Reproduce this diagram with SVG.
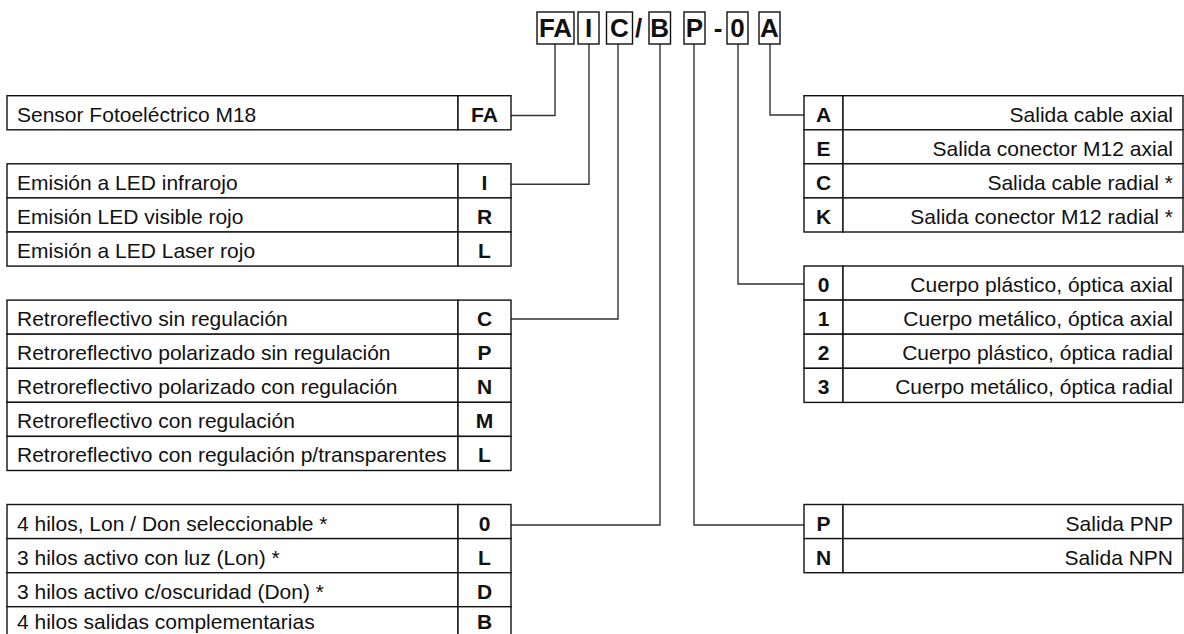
<svg xmlns="http://www.w3.org/2000/svg" width="1184" height="634" viewBox="0 0 1184 634">
<style>
.cell{fill:#fff;stroke:#111;stroke-width:1.4}
.lbl{font-family:"Liberation Sans",Arial,sans-serif;font-size:21px;fill:#111}
.rt{text-anchor:end}
.cd{font-family:"Liberation Sans",Arial,sans-serif;font-size:21px;font-weight:bold;fill:#111;text-anchor:middle}
.big{font-family:"Liberation Sans",Arial,sans-serif;font-size:26px;font-weight:bold;fill:#111;text-anchor:middle}
.conn{fill:none;stroke:#333;stroke-width:1.4}
</style>
<rect width="1184" height="634" fill="#fff"/>

<g id="connectors">
<path class="conn" d="M555,44 V115.5 H511"/>
<path class="conn" d="M589,44 V184.3 H511"/>
<path class="conn" d="M618,44 V319 H511"/>
<path class="conn" d="M660,44 V525 H511"/>
<path class="conn" d="M694,44 V525 H804"/>
<path class="conn" d="M738,44 V284 H804"/>
<path class="conn" d="M770,44 V115 H804"/>
</g>

<g id="code">
<rect class="cell" x="537" y="12" width="37" height="32"/><text class="big" x="555.5" y="36.7">FA</text>
<rect class="cell" x="578" y="12" width="21" height="32"/><text class="big" x="588.5" y="36.7">I</text>
<rect class="cell" x="606.5" y="12" width="26" height="32"/><text class="big" x="619.5" y="36.7">C</text>
<text class="big" x="638.5" y="36.7">/</text>
<rect class="cell" x="649" y="12" width="21.5" height="32"/><text class="big" x="659.75" y="36.7">B</text>
<rect class="cell" x="684" y="12" width="21" height="32"/><text class="big" x="694.5" y="36.7">P</text>
<text class="big" x="718" y="36.7">-</text>
<rect class="cell" x="727" y="12" width="21" height="32"/><text class="big" x="737.5" y="36.7">0</text>
<rect class="cell" x="759" y="12" width="21" height="32"/><text class="big" x="769.5" y="36.7">A</text>
</g>

<g id="t-sensor">
<rect class="cell" x="7" y="95.7" width="451" height="34.1"/><rect class="cell" x="458" y="95.7" width="53" height="34.1"/>
<text class="lbl" x="17" y="121.7">Sensor Fotoeléctrico M18</text><text class="cd" x="484.5" y="121.7">FA</text>
</g>

<g id="t-emision">
<rect class="cell" x="7" y="163.8" width="451" height="34.1"/><rect class="cell" x="458" y="163.8" width="53" height="34.1"/>
<rect class="cell" x="7" y="197.9" width="451" height="34.1"/><rect class="cell" x="458" y="197.9" width="53" height="34.1"/>
<rect class="cell" x="7" y="232" width="451" height="34.1"/><rect class="cell" x="458" y="232" width="53" height="34.1"/>
<text class="lbl" x="17" y="189.8">Emisión a LED infrarojo</text><text class="cd" x="484.5" y="189.8">I</text>
<text class="lbl" x="17" y="223.9">Emisión LED visible rojo</text><text class="cd" x="484.5" y="223.9">R</text>
<text class="lbl" x="17" y="258">Emisión a LED Laser rojo</text><text class="cd" x="484.5" y="258">L</text>
</g>

<g id="t-retro">
<rect class="cell" x="7" y="300.1" width="451" height="34.1"/><rect class="cell" x="458" y="300.1" width="53" height="34.1"/>
<rect class="cell" x="7" y="334.2" width="451" height="34.1"/><rect class="cell" x="458" y="334.2" width="53" height="34.1"/>
<rect class="cell" x="7" y="368.3" width="451" height="34.1"/><rect class="cell" x="458" y="368.3" width="53" height="34.1"/>
<rect class="cell" x="7" y="402.3" width="451" height="34.1"/><rect class="cell" x="458" y="402.3" width="53" height="34.1"/>
<rect class="cell" x="7" y="436.4" width="451" height="34.1"/><rect class="cell" x="458" y="436.4" width="53" height="34.1"/>
<text class="lbl" x="17" y="326.1">Retroreflectivo sin regulación</text><text class="cd" x="484.5" y="326.1">C</text>
<text class="lbl" x="17" y="360.2">Retroreflectivo polarizado sin regulación</text><text class="cd" x="484.5" y="360.2">P</text>
<text class="lbl" x="17" y="394.3">Retroreflectivo polarizado con regulación</text><text class="cd" x="484.5" y="394.3">N</text>
<text class="lbl" x="17" y="428.3">Retroreflectivo con regulación</text><text class="cd" x="484.5" y="428.3">M</text>
<text class="lbl" x="17" y="462.4">Retroreflectivo con regulación p/transparentes</text><text class="cd" x="484.5" y="462.4">L</text>
</g>

<g id="t-hilos">
<rect class="cell" x="7" y="504.5" width="451" height="34.1"/><rect class="cell" x="458" y="504.5" width="53" height="34.1"/>
<rect class="cell" x="7" y="538.6" width="451" height="34.1"/><rect class="cell" x="458" y="538.6" width="53" height="34.1"/>
<rect class="cell" x="7" y="572.7" width="451" height="34.1"/><rect class="cell" x="458" y="572.7" width="53" height="34.1"/>
<rect class="cell" x="7" y="606.7" width="451" height="34.1"/><rect class="cell" x="458" y="606.7" width="53" height="34.1"/>
<text class="lbl" x="17" y="530.5">4 hilos, Lon / Don seleccionable *</text><text class="cd" x="484.5" y="530.5">0</text>
<text class="lbl" x="17" y="564.6">3 hilos activo con luz (Lon) *</text><text class="cd" x="484.5" y="564.6">L</text>
<text class="lbl" x="17" y="598.7">3 hilos activo c/oscuridad (Don) *</text><text class="cd" x="484.5" y="598.7">D</text>
<text class="lbl" x="17" y="629">4 hilos salidas complementarias</text><text class="cd" x="484.5" y="629">B</text>
</g>

<g id="t-salida">
<rect class="cell" x="804" y="95.7" width="39" height="34.1"/><rect class="cell" x="843" y="95.7" width="340" height="34.1"/>
<rect class="cell" x="804" y="129.8" width="39" height="34.1"/><rect class="cell" x="843" y="129.8" width="340" height="34.1"/>
<rect class="cell" x="804" y="163.8" width="39" height="34.1"/><rect class="cell" x="843" y="163.8" width="340" height="34.1"/>
<rect class="cell" x="804" y="197.9" width="39" height="34.1"/><rect class="cell" x="843" y="197.9" width="340" height="34.1"/>
<text class="cd" x="823.5" y="121.7">A</text><text class="lbl rt" x="1173" y="121.7">Salida cable axial</text>
<text class="cd" x="823.5" y="155.8">E</text><text class="lbl rt" x="1173" y="155.8">Salida conector M12 axial</text>
<text class="cd" x="823.5" y="189.8">C</text><text class="lbl rt" x="1173" y="189.8">Salida cable radial *</text>
<text class="cd" x="823.5" y="223.9">K</text><text class="lbl rt" x="1173" y="223.9">Salida conector M12 radial *</text>
</g>

<g id="t-cuerpo">
<rect class="cell" x="804" y="266" width="39" height="34.1"/><rect class="cell" x="843" y="266" width="340" height="34.1"/>
<rect class="cell" x="804" y="300.1" width="39" height="34.1"/><rect class="cell" x="843" y="300.1" width="340" height="34.1"/>
<rect class="cell" x="804" y="334.2" width="39" height="34.1"/><rect class="cell" x="843" y="334.2" width="340" height="34.1"/>
<rect class="cell" x="804" y="368.3" width="39" height="34.1"/><rect class="cell" x="843" y="368.3" width="340" height="34.1"/>
<text class="cd" x="823.5" y="292">0</text><text class="lbl rt" x="1173" y="292">Cuerpo plástico, óptica axial</text>
<text class="cd" x="823.5" y="326.1">1</text><text class="lbl rt" x="1173" y="326.1">Cuerpo metálico, óptica axial</text>
<text class="cd" x="823.5" y="360.2">2</text><text class="lbl rt" x="1173" y="360.2">Cuerpo plástico, óptica radial</text>
<text class="cd" x="823.5" y="394.3">3</text><text class="lbl rt" x="1173" y="394.3">Cuerpo metálico, óptica radial</text>
</g>

<g id="t-pnp">
<rect class="cell" x="804" y="504.5" width="39" height="34.1"/><rect class="cell" x="843" y="504.5" width="340" height="34.1"/>
<rect class="cell" x="804" y="538.6" width="39" height="34.1"/><rect class="cell" x="843" y="538.6" width="340" height="34.1"/>
<text class="cd" x="823.5" y="530.5">P</text><text class="lbl rt" x="1173" y="530.5">Salida PNP</text>
<text class="cd" x="823.5" y="564.6">N</text><text class="lbl rt" x="1173" y="564.6">Salida NPN</text>
</g>
</svg>
